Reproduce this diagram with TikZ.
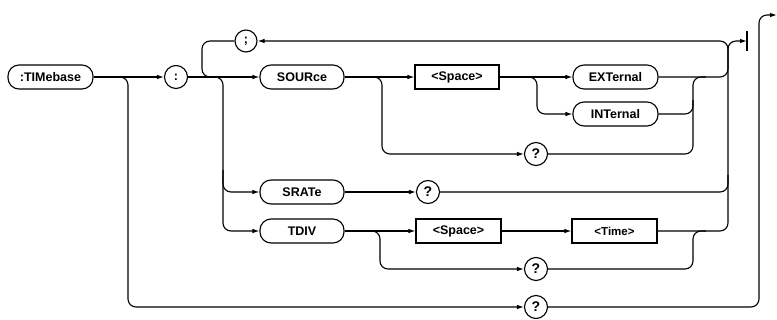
\documentclass[tikz,border=0pt]{standalone}
\usepackage{fontspec}
\setmainfont{Liberation Sans}
\usetikzlibrary{arrows.meta}
\begin{document}
\begin{tikzpicture}[x=1pt,y=-1pt,line width=1.1pt,
  every node/.style={font=\fontsize{12.5}{14}\selectfont\bfseries, inner sep=0pt},
  pill/.style={draw, rounded corners=11pt, minimum width=84pt, minimum height=24pt},
  rbox/.style={draw, rectangle, minimum width=84pt, minimum height=24pt},
  circ/.style={draw, circle, minimum size=23pt},
  qcirc/.style={circ, font=\fontsize{14}{16}\selectfont\bfseries},
  arr/.style={-{Latex[length=7pt,width=4.5pt]}},
  rc/.style={rounded corners=8pt}]
\useasboundingbox (0,0) rectangle (777,320);
% nodes
\node[pill, minimum width=85pt] (tim) at (50.5,77) {:TIMebase};
\node[circ] (colon) at (176,77) {:};
\node[circ, minimum size=22pt] (semi) at (246,41) {;};
\node[pill] (src) at (302,77) {SOURce};
\node[pill] (srate) at (302,192) {SRATe};
\node[pill] (tdiv) at (302,231) {TDIV};
\node[rbox] (sp1) at (457,77) {<Space>};
\node[pill, minimum width=85pt] (ext) at (615.5,77) {EXTernal};
\node[pill, minimum width=85pt] (int) at (615.5,114) {INTernal};
\node[qcirc] (q1) at (536,154) {?};
\node[qcirc] (q2) at (428,192) {?};
\node[rbox, minimum width=85pt] (sp2) at (458.5,231) {<Space>};
\node[rbox, minimum width=85pt, font=\fontsize{11.5}{13}\selectfont\bfseries] (time) at (614.5,231) {<Time>};
\node[qcirc] (q3) at (536,269) {?};
\node[qcirc] (q4) at (536,307) {?};
\coordinate (bar) at (747,41);
\coordinate (fin) at (777,15);
% main line
\draw[arr] (tim.east) -- (colon.west);
\draw[arr] (colon.east) -- (src.west);
% outer query branch
\draw[rc, arr] (115,77) -- (128,77) -- (128,307) -- (q4.west);
\draw[rc, arr] (q4.east) -- (759,307) -- (759,15) -- (fin);
% repeat loop via ;
\draw[rc, arr] (time.east) -- (728,231) -- (728,41) -- (semi.east);
\draw[rc] (semi.west) -- (202,41) -- (202,77) -- (216,77);
% exit
\draw[rc, arr] (728,62) -- (728,41) -- (bar);
\draw (bar) ++(0,-10) -- ++(0,20);
% branches to SRATe / TDIV
\draw[rc, arr] (212,77) -- (223,77) -- (223,231) -- (tdiv.west);
\draw[rc, arr] (223,170) -- (223,192) -- (srate.west);
% SOURce row
\draw[arr] (src.east) -- (sp1.west);
\draw[rc, arr] (370,77) -- (382,77) -- (382,154) -- (q1.west);
\draw[arr] (sp1.east) -- (ext.west);
\draw[rc, arr] (525,77) -- (537,77) -- (537,114) -- (int.west);
\draw[rc] (ext.east) -- (728,77) -- (728,62);
\draw[rc] (int.east) -- (693,114) -- (693,77) -- (706,77);
\draw[rc] (q1.east) -- (693,154) -- (693,100);
% SRATe row
\draw[arr] (srate.east) -- (q2.west);
\draw[rc] (q2.east) -- (728,192) -- (728,175);
% TDIV row
\draw[arr] (tdiv.east) -- (sp2.west);
\draw[arr] (sp2.east) -- (time.west);
\draw[rc, arr] (368,231) -- (380,231) -- (380,269) -- (q3.west);
\draw[rc] (q3.east) -- (693,269) -- (693,231) -- (706,231);
\end{tikzpicture}
\end{document}
